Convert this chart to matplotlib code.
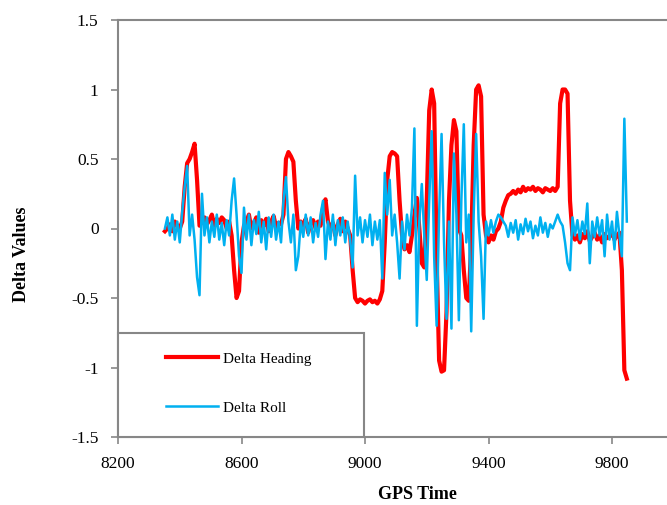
import matplotlib
matplotlib.use("Agg")
import matplotlib.pyplot as plt
from matplotlib.patches import Rectangle
import numpy as np

# GPS time sampling (one sample every 8 s)
t_start = 8352
t_step = 8

delta_heading = [
    -0.02, 0.0, 0.03, -0.02, 0.05, 0.02, 0.0, 0.05, 0.3, 0.47,
    0.5, 0.55, 0.61, 0.35, 0.02, 0.05, 0.08, 0.03, 0.06, 0.1,
    0.02, 0.07, 0.04, 0.08, 0.06, 0.0, 0.05, -0.05, -0.3, -0.5,
    -0.45, -0.1, 0.02, 0.05, 0.1, 0.0, 0.04, 0.08, -0.03, 0.06,
    0.02, 0.07, -0.02, 0.05, 0.09, 0.01, 0.04, 0.03, 0.1, 0.5,
    0.55, 0.52, 0.48, 0.2, 0.0, 0.05, 0.02, 0.07, -0.03, 0.04,
    0.06, 0.0, 0.05, 0.02, 0.15, 0.21, 0.05, 0.0, 0.04, -0.05,
    0.03, 0.07, -0.02, 0.05, 0.0, -0.05, -0.3, -0.5, -0.53, -0.51,
    -0.52, -0.54, -0.52, -0.51, -0.53, -0.52, -0.54, -0.51, -0.45, -0.1,
    0.35, 0.52, 0.55, 0.54, 0.52, 0.2, -0.05, -0.15, -0.12, -0.17,
    -0.05, 0.1, 0.22, 0.0, -0.25, -0.28, 0.2, 0.85, 1.0, 0.9,
    -0.2, -0.95, -1.03, -1.02, -0.6, 0.2, 0.6, 0.78, 0.7, 0.0,
    -0.05, -0.3, -0.5, -0.52, -0.1, 0.6, 1.0, 1.03, 0.95, 0.1,
    -0.05, -0.1, -0.05, -0.08, -0.02, 0.0, 0.05, 0.15, 0.2, 0.24,
    0.25, 0.27, 0.25, 0.28, 0.26, 0.3, 0.27, 0.29, 0.28, 0.3,
    0.27, 0.29, 0.28, 0.26, 0.29, 0.28, 0.27, 0.29, 0.27, 0.3,
    0.9, 1.0, 1.0, 0.97, 0.2, -0.05, -0.08, -0.05, -0.1, -0.04,
    -0.07, -0.02, -0.09, -0.06, -0.03, -0.08, -0.05, -0.1, -0.04, -0.07,
    -0.06, -0.02, -0.08, -0.05, -0.03, -0.3, -1.02, -1.08,
]

delta_roll = [
    0.0, 0.08, -0.05, 0.1, -0.08, 0.05, -0.1, 0.12, 0.3, 0.45,
    -0.05, 0.1, -0.08, -0.35, -0.48, 0.25, -0.05, 0.08, -0.1, 0.05,
    -0.06, 0.1, -0.08, 0.04, -0.12, 0.06, -0.05, 0.2, 0.36, 0.1,
    -0.2, -0.32, 0.15, -0.08, 0.1, -0.12, 0.06, -0.04, 0.12, -0.1,
    0.05, -0.15, 0.08, -0.06, 0.1, -0.08, 0.05, -0.1, 0.2, 0.37,
    0.05, -0.1, 0.1, -0.3, -0.2, 0.05, -0.06, 0.1, -0.05, 0.08,
    -0.1, 0.04, -0.06, 0.1, 0.2, -0.22, 0.05, -0.08, 0.1, -0.12,
    0.06, -0.05, 0.08, -0.1, 0.05, -0.08, -0.28, 0.38, -0.05, 0.08,
    -0.1, 0.06, -0.06, 0.1, -0.12, 0.05, -0.08, 0.06, -0.36, 0.4,
    0.1, 0.35, -0.05, 0.1, -0.1, -0.36, 0.05, -0.15, 0.1, -0.05,
    0.15, 0.72, -0.7, 0.05, 0.32, -0.05, -0.37, 0.2, 0.7, -0.2,
    -0.7, 0.1, 0.68, -0.1, -0.65, 0.05, -0.72, 0.54, 0.1, -0.66,
    0.2, 0.75, -0.1, 0.1, -0.74, 0.1, 0.68, 0.05, -0.2, -0.65,
    0.05, -0.05, 0.06, -0.03, 0.05, 0.1, 0.08, 0.05, 0.02, -0.06,
    0.04, -0.03, 0.06, -0.08, 0.03, -0.04, 0.07, -0.02, 0.05, -0.07,
    0.02, -0.05, 0.08, -0.03, 0.04, -0.06, 0.03, 0.0, 0.05, 0.1,
    0.05, 0.02, -0.1, -0.25, -0.3, 0.08, -0.05, 0.06, -0.08, 0.05,
    -0.04, 0.18, -0.25, 0.05, -0.06, 0.08, -0.05, 0.06, -0.2, 0.1,
    -0.08, 0.05, -0.15, 0.12, -0.05, -0.2, 0.79, 0.05,
]

gps_time = t_start + t_step * np.arange(len(delta_heading))

plt.rcParams['font.family'] = ['Liberation Serif', 'DejaVu Serif']

fig = plt.figure(figsize=(6.67, 5.05), dpi=100)
# axes run a little past the right edge of the picture, like the original crop
ax = fig.add_axes([118 / 667, 68 / 505, 555.75 / 667, 417 / 505])

ax.plot(gps_time, delta_heading, color='#FF0000', linewidth=3,
        label='Delta Heading', zorder=2)
ax.plot(gps_time, delta_roll, color='#00B0F0', linewidth=1.8,
        label='Delta Roll', zorder=3)

ax.set_xlim(8200, 10000)
ax.set_ylim(-1.5, 1.5)
ax.set_xticks([8200, 8600, 9000, 9400, 9800])
ax.set_yticks([-1.5, -1, -0.5, 0, 0.5, 1, 1.5])
ax.set_yticklabels(['-1.5', '-1', '-0.5', '0', '0.5', '1', '1.5'])

for side in ['top', 'left', 'bottom', 'right']:
    ax.spines[side].set_color('#878787')
    ax.spines[side].set_linewidth(1.5)

ax.tick_params(axis='both', direction='out', length=5, width=1.2,
               color='#878787', labelsize=12.5)
ax.tick_params(axis='x', pad=9)
ax.tick_params(axis='y', pad=9)

ax.set_xlabel('GPS Time', fontsize=13, fontweight='bold')
ax.xaxis.set_label_coords(0.538, -0.117)
ax.set_ylabel('Delta Values', fontsize=13, fontweight='bold')
ax.yaxis.set_label_coords(-0.158, 0.439)

# legend box in the lower left corner
box = Rectangle((0, 0), 246 / 555.75, 104 / 417, transform=ax.transAxes,
                facecolor='white', edgecolor='#878787', linewidth=1.5,
                zorder=4, clip_on=False)
ax.add_patch(box)
ax.legend(loc='upper left', bbox_to_anchor=(48 / 555.75, 85 / 417),
          frameon=False, fontsize=11, borderpad=0, borderaxespad=0,
          labelspacing=2.3, handlelength=3.4, handletextpad=0.35)

fig.savefig('out.png', dpi=100)
